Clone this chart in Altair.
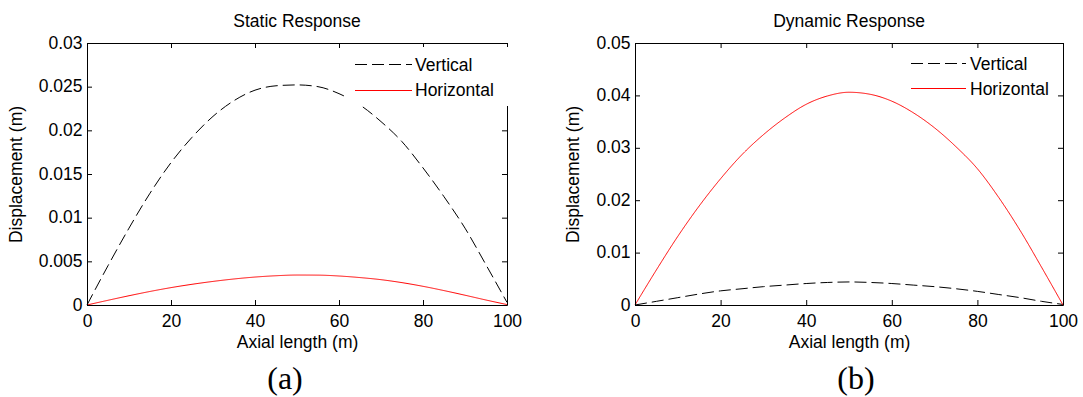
import altair as alt
import pandas as pd

# ---------------- data ----------------
axial_length = [0, 5, 10, 15, 20, 25, 30, 35, 40, 45, 50,
                55, 60, 65, 70, 75, 80, 85, 90, 95, 100]

static_vertical = [0.0, 0.0045, 0.0088, 0.0128, 0.0163, 0.0192, 0.0216, 0.0234,
                   0.0246, 0.0251, 0.0252, 0.0250, 0.0242, 0.0229, 0.0210,
                   0.0187, 0.0157, 0.0124, 0.0088, 0.0046, 0.0003]
static_horizontal = [0.0, 0.00054, 0.00106, 0.00155, 0.00199, 0.00237, 0.00270, 0.00298,
                     0.00320, 0.00335, 0.00343, 0.00342, 0.00332, 0.00314, 0.00290,
                     0.00256, 0.00214, 0.00165, 0.00112, 0.00057, 0.00005]
dynamic_vertical = [0.0, 0.0007, 0.0014, 0.0021, 0.0027, 0.0031, 0.0035, 0.0038,
                    0.0041, 0.0043, 0.0044, 0.0043, 0.0041, 0.0038, 0.0035,
                    0.0031, 0.0026, 0.0020, 0.0014, 0.0007, 0.0001]
dynamic_horizontal = [0.0, 0.0067, 0.0131, 0.0189, 0.0241, 0.0287, 0.0325, 0.0357,
                      0.0383, 0.0399, 0.0406, 0.0402, 0.0389, 0.0367, 0.0338,
                      0.0302, 0.0260, 0.0205, 0.0142, 0.0072, 0.0]

series_names = ["Vertical", "Horizontal"]
series_colors = ["black", "red"]
series_dashes = [[12, 5], [1, 0]]

x_ticks = [0, 20, 40, 60, 80, 100]
static_y_ticks = [0, 0.005, 0.01, 0.015, 0.02, 0.025, 0.03]
dynamic_y_ticks = [0, 0.01, 0.02, 0.03, 0.04, 0.05]

panel_titles = ["Static Response", "Dynamic Response"]
panel_tags = ["(a)", "(b)"]
x_title = "Axial length (m)"
y_title = "Displacement (m)"

# ---------------- styling ----------------
FONT = "Liberation Sans"
FS = 17.5
H = 262
TICK = 5
ONE = pd.DataFrame({"k": [0]})


def panel(vertical, horizontal, y_ticks, title, tag, W, legend, tag_x,
          anchor_left=None, anchor_right=None):
    df = pd.DataFrame({
        "x": axial_length * 2,
        "y": vertical + horizontal,
        "series": [series_names[0]] * len(vertical) + [series_names[1]] * len(horizontal),
    })
    xs = alt.Scale(domain=[x_ticks[0], x_ticks[-1]], nice=False, zero=False)
    ys = alt.Scale(domain=[y_ticks[0], y_ticks[-1]], nice=False)
    xaxis = alt.Axis(values=x_ticks, format="~r", ticks=False, tickSize=0,
                     labelPadding=7, labelFlush=False, labelOverlap=False,
                     title=x_title, titlePadding=4, grid=False)
    yaxis = alt.Axis(values=y_ticks, format="~r", ticks=False, tickSize=0,
                     labelPadding=5, labelFlush=False, labelOverlap=False,
                     title=y_title, titlePadding=13, grid=False)

    lines = alt.Chart(df).mark_line(strokeWidth=1, interpolate="monotone").encode(
        x=alt.X("x:Q", scale=xs, axis=xaxis),
        y=alt.Y("y:Q", scale=ys, axis=yaxis),
        color=alt.Color("series:N", scale=alt.Scale(domain=series_names, range=series_colors), legend=None),
        strokeDash=alt.StrokeDash("series:N", scale=alt.Scale(domain=series_names, range=series_dashes), legend=None),
    )

    xt = pd.DataFrame({"x": x_ticks})
    yt = pd.DataFrame({"y": y_ticks})
    ticks_bottom = alt.Chart(xt).mark_rule(color="black", strokeWidth=1, xOffset=0.5).encode(
        x=alt.X("x:Q", scale=xs, axis=xaxis), y=alt.value(H), y2=alt.value(H - TICK))
    ticks_top = alt.Chart(xt).mark_rule(color="black", strokeWidth=1, xOffset=0.5).encode(
        x=alt.X("x:Q", scale=xs, axis=xaxis), y=alt.value(0), y2=alt.value(TICK))
    ticks_left = alt.Chart(yt).mark_rule(color="black", strokeWidth=1, yOffset=0.5).encode(
        y=alt.Y("y:Q", scale=ys, axis=yaxis), x=alt.value(0), x2=alt.value(TICK))
    ticks_right = alt.Chart(yt).mark_rule(color="black", strokeWidth=1, yOffset=0.5).encode(
        y=alt.Y("y:Q", scale=ys, axis=yaxis), x=alt.value(W - TICK), x2=alt.value(W))

    border_top = alt.Chart(ONE).mark_rule(color="black", strokeWidth=1).encode(
        x=alt.value(0), x2=alt.value(W + 0.5), y=alt.value(0.5))
    border_right = alt.Chart(ONE).mark_rule(color="black", strokeWidth=1).encode(
        x=alt.value(W + 0.5), y=alt.value(0), y2=alt.value(H + 0.5))

    layers = [lines, ticks_bottom, ticks_top, ticks_left, ticks_right, border_top, border_right]

    if legend.get("box"):
        bx0, bx1, by0, by1 = legend["box"]
        layers.append(alt.Chart(ONE).mark_rect(fill="white").encode(
            x=alt.value(bx0), x2=alt.value(bx1), y=alt.value(by0), y2=alt.value(by1)))

    for i, name in enumerate(series_names):
        layers.append(alt.Chart(ONE).mark_rule(
            color=series_colors[i], strokeDash=series_dashes[i], strokeWidth=1).encode(
            x=alt.value(legend["line_x"][0]), x2=alt.value(legend["line_x"][1]),
            y=alt.value(legend["line_y"][i] + 0.5)))
        layers.append(alt.Chart(ONE).mark_text(
            align="left", baseline="alphabetic", font=FONT, fontSize=FS, color="black").encode(
            x=alt.value(legend["text_x"]), y=alt.value(legend["text_y"][i]), text=alt.value(name)))

    layers.append(alt.Chart(ONE).mark_text(
        align="center", baseline="alphabetic", font="Liberation Serif", fontSize=32, color="black").encode(
        x=alt.value(tag_x), y=alt.value(346), text=alt.value(tag)))

    # white size anchors so the page is exactly filled
    if anchor_left is not None:
        layers.append(alt.Chart(ONE).mark_rule(color="white", strokeWidth=1).encode(
            x=alt.value(anchor_left + 0.5), y=alt.value(H / 2), y2=alt.value(H / 2 + 1)))
    if anchor_right is not None:
        layers.append(alt.Chart(ONE).mark_rule(color="white", strokeWidth=1).encode(
            x=alt.value(anchor_right[0] - 0.5), y=alt.value(anchor_right[1] - 1.5),
            y2=alt.value(anchor_right[1] - 0.5)))

    return alt.layer(*layers).properties(
        width=W, height=H,
        title=alt.TitleParams(title, font=FONT, fontSize=FS, fontWeight="normal",
                              color="black", offset=4, anchor="middle"),
    )


left = panel(static_vertical, static_horizontal, static_y_ticks, panel_titles[0], panel_tags[0],
             420,
             {"box": (258, 423, 4, 63), "line_x": (268, 325), "line_y": (21, 47),
              "text_x": 328, "text_y": (28, 53)},
             tag_x=198, anchor_left=-87)
right = panel(dynamic_vertical, dynamic_horizontal, dynamic_y_ticks, panel_titles[1], panel_tags[1],
              428,
              {"line_x": (276, 331), "line_y": (20, 45), "text_x": 335, "text_y": (27, 52)},
              tag_x=221, anchor_right=(448, 355))

chart = alt.hconcat(left, right, spacing=128, bounds="flush").properties(
    padding={"left": 0, "right": 0, "top": 12, "bottom": 0},
    background="white",
).configure_view(stroke=None).configure_axis(
    domainColor="black", domainWidth=1, labelColor="black", titleColor="black",
    labelFont=FONT, titleFont=FONT, labelFontSize=FS, titleFontSize=FS,
    titleFontWeight="normal",
).configure_text(font=FONT)

chart.save("out.html", embed_options={"renderer": "svg", "actions": False})
